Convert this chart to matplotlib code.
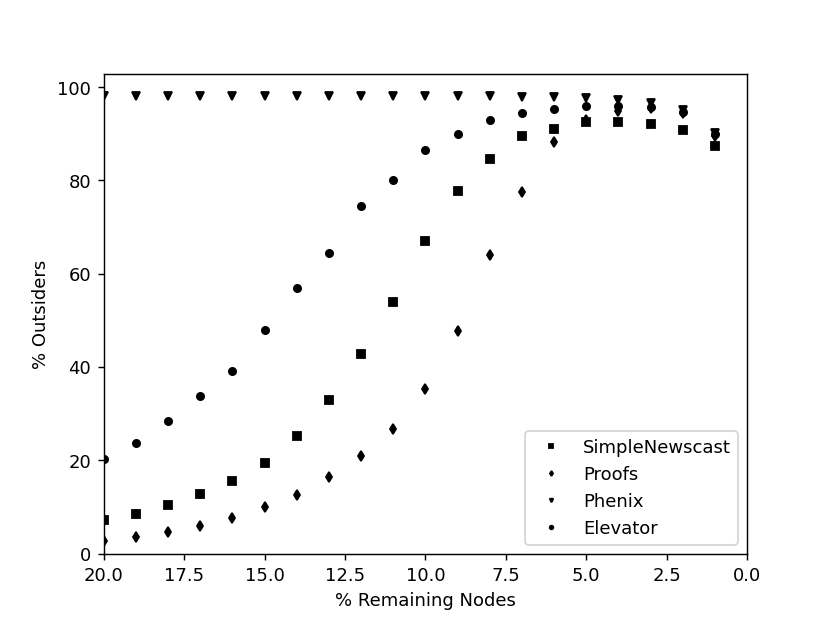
import matplotlib
matplotlib.use("Agg")
import matplotlib.pyplot as plt

# % remaining nodes
remaining = [20, 19, 18, 17, 16, 15, 14, 13, 12, 11, 10, 9, 8, 7, 6, 5, 4, 3, 2, 1]

simple_newscast = [7.2, 8.5, 10.4, 12.7, 15.6, 19.4, 25.3, 33.0, 42.8, 53.9,
                   67.1, 77.8, 84.5, 89.4, 91.1, 92.4, 92.4, 92.1, 90.8, 87.3]
proofs = [2.7, 3.6, 4.6, 6.0, 7.7, 9.9, 12.5, 16.4, 20.9, 26.6,
          35.3, 47.6, 64.0, 77.5, 88.2, 92.9, 94.9, 95.5, 94.4, 89.5]
phenix = [98.0, 98.0, 98.0, 98.0, 98.0, 98.0, 98.0, 98.0, 98.0, 98.0,
          98.0, 98.0, 98.0, 97.9, 97.8, 97.6, 97.2, 96.6, 95.0, 90.1]
elevator = [20.2, 23.6, 28.5, 33.8, 39.2, 47.9, 56.9, 64.5, 74.5, 80.1,
            86.5, 90.0, 92.9, 94.5, 95.3, 95.9, 96.0, 95.8, 94.7, 90.0]


fig = plt.figure(figsize=(6.4, 4.8), dpi=129.7)
plt.plot(remaining, simple_newscast, "ks", markersize=4, label="SimpleNewscast")
plt.plot(remaining, proofs, "kd", markersize=4, label="Proofs")
plt.plot(remaining, phenix, "kv", markersize=4, label="Phenix")
plt.plot(remaining, elevator, "ko", markersize=4, label="Elevator")

plt.xlim(20, 0)
plt.ylim(bottom=0)
plt.xlabel("% Remaining Nodes")
plt.ylabel("% Outsiders")
plt.legend(loc="lower right", markerscale=0.5)
plt.savefig("out.png", dpi=129.7)
